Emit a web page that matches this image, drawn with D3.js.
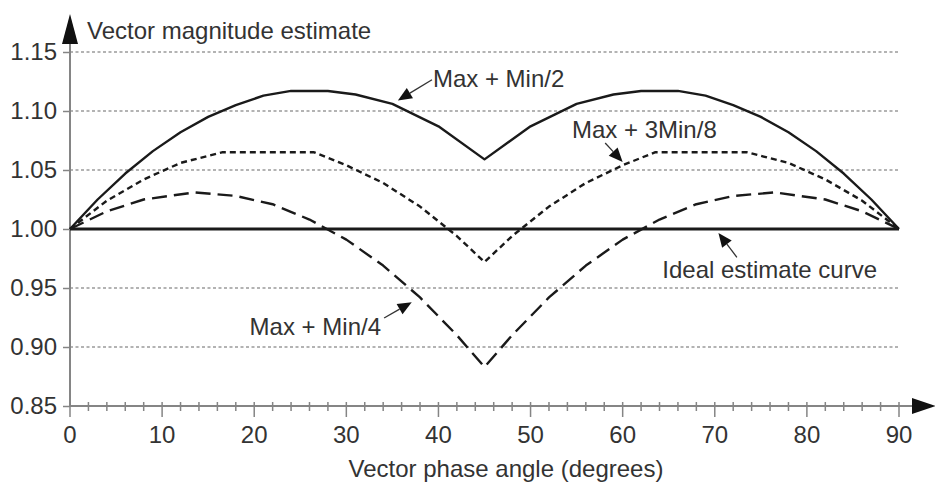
<!DOCTYPE html>
<html><head><meta charset="utf-8">
<script src="https://cdn.jsdelivr.net/npm/d3@7"></script>
<style>
html,body{margin:0;padding:0;background:#fff;}
svg{display:block;}
text{font-family:"Liberation Sans",Arial,Helvetica,sans-serif;fill:#333;}
</style></head>
<body>
<svg id="chart" width="935" height="483"></svg>
<script>
// ---- data ----
const angleHalf1 = [0, 3, 6, 9, 12, 15, 18, 21, 24, 28, 31, 35, 40, 45, 50, 55, 59, 62, 66, 69, 72, 75, 78, 81, 84, 87, 90];
const maxMinHalf = [1.000, 1.025, 1.047, 1.066, 1.082, 1.095, 1.105, 1.113, 1.117, 1.117, 1.114, 1.106, 1.087, 1.059, 1.087, 1.106, 1.114, 1.117, 1.117, 1.113, 1.105, 1.095, 1.082, 1.066, 1.047, 1.025, 1.000];

const angle38 = [0, 4, 8, 12, 16.5, 26.5, 30, 34, 38, 42, 45, 48, 52, 56, 60, 63.5, 73.5, 78, 82, 86, 90];
const maxMin38 = [1.000, 1.024, 1.042, 1.056, 1.065, 1.065, 1.054, 1.039, 1.019, 0.994, 0.972, 0.994, 1.019, 1.039, 1.054, 1.065, 1.065, 1.056, 1.042, 1.024, 1.000];

const angleQuarter = [0, 4, 8, 13.5, 18, 22, 26, 30, 34, 38, 42, 45, 48, 52, 56, 60, 64, 68, 72, 76.5, 82, 86, 90];
const maxMinQuarter = [1.000, 1.015, 1.025, 1.031, 1.028, 1.021, 1.008, 0.991, 0.969, 0.942, 0.910, 0.883, 0.910, 0.942, 0.969, 0.991, 1.008, 1.021, 1.028, 1.031, 1.025, 1.015, 1.000];

const idealAngles = [0, 90];
const idealValues = [1.0, 1.0];

const yTicks = [0.85, 0.90, 0.95, 1.00, 1.05, 1.10, 1.15];
const yGrid = [0.90, 0.95, 1.05, 1.10, 1.15];
const xTicks = [0, 10, 20, 30, 40, 50, 60, 70, 80, 90];
const xMinorTicks = d3.range(0, 91, 2);

const labelTexts = ["Max + Min/2", "Max + 3Min/8", "Max + Min/4", "Ideal estimate curve"];
const labelAt = [[39.4, 1.120], [54.5, 1.077], [19.5, 0.910], [64.3, 0.9585]];
const arrowFrom = [[39.3, 1.1265], [58.1, 1.0729], [34.1, 0.9246], [72.4, 0.976]];
const arrowTo = [[35.6, 1.109], [60.0, 1.0568], [37.1, 0.938], [70.4, 0.9966]];

const yTitle = "Vector magnitude estimate";
const xTitle = "Vector phase angle (degrees)";

// ---- drawing ----
const svg = d3.select("#chart");
const x = d3.scaleLinear().domain([0, 90]).range([70, 899]);
const y = d3.scaleLinear().domain([0.85, 1.15]).range([406, 52]);
const axisColor = "#858585";

// gridlines
svg.append("g").selectAll("line").data(yGrid).join("line")
  .attr("x1", x(0)).attr("x2", x(90))
  .attr("y1", d => y(d)).attr("y2", d => y(d))
  .attr("stroke", "#9a9a9a").attr("stroke-width", 1.4)
  .attr("stroke-dasharray", "3,2.5");

// y axis
const yAxis = d3.axisLeft(y).tickValues(yTicks).tickFormat(d3.format(".2f")).tickSize(7).tickPadding(6);
const gy = svg.append("g").attr("transform", `translate(${x(0)},0)`).call(yAxis);
gy.select(".domain").remove();
gy.selectAll(".tick line").attr("stroke", axisColor).attr("stroke-width", 1.5);
gy.selectAll(".tick text").attr("font-size", 24).attr("fill", "#333")
  .attr("font-family", '"Liberation Sans",Arial,sans-serif');
svg.append("line").attr("x1", x(0)).attr("x2", x(0))
  .attr("y1", y(0.85)).attr("y2", 40)
  .attr("stroke", axisColor).attr("stroke-width", 2);
svg.append("path")
  .attr("d", d3.line()([[x(0) - 8, 44], [x(0), 14], [x(0) + 8, 44]]) + "Z")
  .attr("fill", "#111");

// x axis
svg.append("line").attr("x1", x(0)).attr("x2", 915)
  .attr("y1", y(0.85)).attr("y2", y(0.85))
  .attr("stroke", axisColor).attr("stroke-width", 2);
svg.append("path")
  .attr("d", d3.line()([[912, y(0.85) - 8], [936, y(0.85)], [912, y(0.85) + 8]]) + "Z")
  .attr("fill", "#111");
svg.append("g").selectAll("line").data(xMinorTicks).join("line")
  .attr("x1", d => x(d)).attr("x2", d => x(d))
  .attr("y1", y(0.85) - 4)
  .attr("y2", d => y(0.85) + (d % 10 === 0 ? 11 : 5))
  .attr("stroke", axisColor).attr("stroke-width", 1.5);
svg.append("g").selectAll("text").data(xTicks).join("text")
  .attr("x", d => x(d)).attr("y", 443)
  .attr("text-anchor", "middle").attr("font-size", 24)
  .text(d => d);

// titles
svg.append("text").attr("x", 87).attr("y", 39).attr("font-size", 24).text(yTitle);
svg.append("text").attr("x", 506).attr("y", 477).attr("text-anchor", "middle").attr("font-size", 24).text(xTitle);

// series
const line = d3.line().x(d => x(d[0])).y(d => y(d[1]));
const series = [
  { xs: idealAngles, ys: idealValues, dash: null, w: 2.8 },
  { xs: angleHalf1, ys: maxMinHalf, dash: null, w: 2.4 },
  { xs: angle38, ys: maxMin38, dash: "6,4", w: 2.4 },
  { xs: angleQuarter, ys: maxMinQuarter, dash: "15,7", w: 2.4 }
];
series.forEach(s => {
  svg.append("path")
    .attr("d", line(s.xs.map((v, i) => [v, s.ys[i]])))
    .attr("fill", "none").attr("stroke", "#1a1a1a")
    .attr("stroke-width", s.w)
    .attr("stroke-linejoin", "round")
    .attr("stroke-dasharray", s.dash);
});

// annotations
labelTexts.forEach((t, i) => {
  svg.append("text").attr("x", x(labelAt[i][0])).attr("y", y(labelAt[i][1]))
    .attr("font-size", 24).text(t);
  const x1 = x(arrowFrom[i][0]), y1 = y(arrowFrom[i][1]);
  const x2 = x(arrowTo[i][0]), y2 = y(arrowTo[i][1]);
  const ang = Math.atan2(y2 - y1, x2 - x1);
  const L = 14, W = 6;
  const bx = x2 - L * Math.cos(ang), by = y2 - L * Math.sin(ang);
  svg.append("line").attr("x1", x1).attr("y1", y1).attr("x2", bx).attr("y2", by)
    .attr("stroke", "#333").attr("stroke-width", 1.3);
  svg.append("path")
    .attr("d", d3.line()([[x2, y2],
      [bx + W * Math.sin(ang), by - W * Math.cos(ang)],
      [bx - W * Math.sin(ang), by + W * Math.cos(ang)]]) + "Z")
    .attr("fill", "#111");
});
</script>
</body></html>
